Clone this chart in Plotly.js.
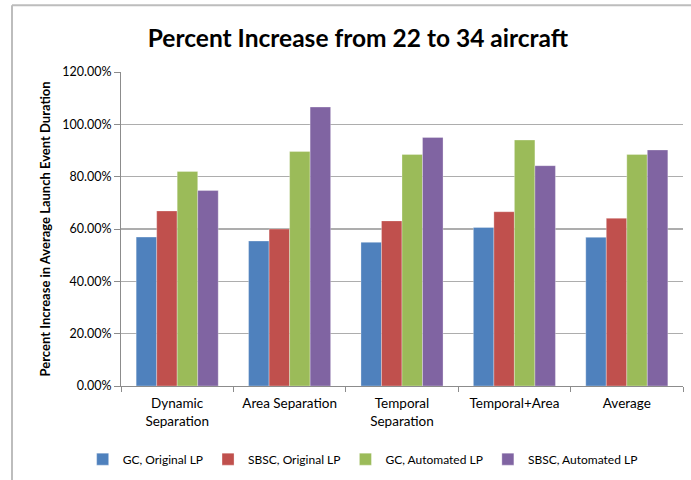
<!DOCTYPE html>
<html>
<head>
<meta charset="utf-8">
<script src="https://cdn.plot.ly/plotly-3.0.1.min.js"></script>
<style>
  html, body { margin: 0; padding: 0; background: #fff; }
  #chart { width: 691px; height: 480px; }
</style>
</head>
<body>
<div id="chart"></div>
<script>
const categories = ["Dynamic<br>Separation", "Area Separation", "Temporal<br>Separation", "Temporal+Area", "Average"];
const seriesNames = ["GC, Original LP", "SBSC, Original LP", "GC, Automated LP", "SBSC, Automated LP"];
const gcOriginal = [56.9, 55.4, 54.9, 60.6, 56.8];
const sbscOriginal = [66.9, 60.0, 63.1, 66.6, 64.1];
const gcAutomated = [82.0, 89.6, 88.5, 94.0, 88.5];
const sbscAutomated = [74.7, 106.6, 95.0, 84.2, 90.2];
const tickValues = [0, 20, 40, 60, 80, 100, 120];
const colors = ["#4F81BD", "#C0504D", "#9BBB59", "#8064A2"];

const allSeries = [gcOriginal, sbscOriginal, gcAutomated, sbscAutomated];
const font = "Lato, 'Open Sans', sans-serif";

const traces = allSeries.map((vals, i) => ({
  type: "bar",
  name: seriesNames[i],
  x: categories,
  y: vals,
  marker: { color: colors[i], line: { color: "rgba(255,255,255,0.5)", width: 0.6 } },
  hoverinfo: "none"
}));

const layout = {
  width: 691,
  height: 480,
  margin: { l: 121, r: 8, t: 72, b: 93 },
  paper_bgcolor: "#ffffff",
  plot_bgcolor: "#ffffff",
  font: { family: font, size: 12, color: "#000" },
  title: {
    text: "<b>Percent Increase from 22 to 34 aircraft</b>",
    font: { family: font, size: 24.5, color: "#000" },
    xref: "container", x: 0.518, xanchor: "center",
    yref: "container", y: 1 - 38 / 480, yanchor: "middle"
  },
  barmode: "group",
  bargap: 0.27,
  bargroupgap: 0,
  showlegend: true,
  legend: {
    orientation: "h",
    x: 0.43, xanchor: "center",
    y: -0.229, yanchor: "middle",
    font: { family: font, size: 12, color: "#000" },
    itemwidth: 30,
    traceorder: "normal"
  },
  xaxis: {
    type: "category",
    showline: true,
    linecolor: "#8c8c8c",
    linewidth: 1,
    ticks: "outside",
    tickson: "boundaries",
    ticklen: 5,
    tickcolor: "#8c8c8c",
    showgrid: false,
    ticklabelstandoff: 5,
    tickfont: { family: font, size: 13.5, color: "#000" },
    fixedrange: true
  },
  yaxis: {
    range: [0, 120],
    tickvals: tickValues,
    ticktext: tickValues.map(v => v.toFixed(2) + "%"),
    showline: true,
    linecolor: "#8c8c8c",
    linewidth: 1,
    ticks: "outside",
    ticklen: 6,
    tickcolor: "#8c8c8c",
    showgrid: true,
    gridcolor: "#adadad",
    gridwidth: 1.5,
    zeroline: false,
    tickfont: { family: font, size: 12.5, color: "#000" },
    title: {
      text: "<b>Percent Increase in Average Launch Event Duration</b>",
      font: { family: font, size: 13, color: "#000" },
      standoff: 8
    },
    fixedrange: true
  },
  shapes: [
    { type: "line", xref: "paper", yref: "paper",
      x0: (12 - 121) / 562, x1: (700 - 121) / 562,
      y0: (387 - 5) / 315, y1: (387 - 5) / 315,
      line: { color: "#bdbdbd", width: 2 } },
    { type: "line", xref: "paper", yref: "paper",
      x0: (12 - 121) / 562, x1: (12 - 121) / 562,
      y0: (387 - 5) / 315, y1: (387 - 490) / 315,
      line: { color: "#bdbdbd", width: 2 } }
  ]
};

Plotly.newPlot("chart", traces, layout, { displayModeBar: false, staticPlot: true });
</script>
</body>
</html>
